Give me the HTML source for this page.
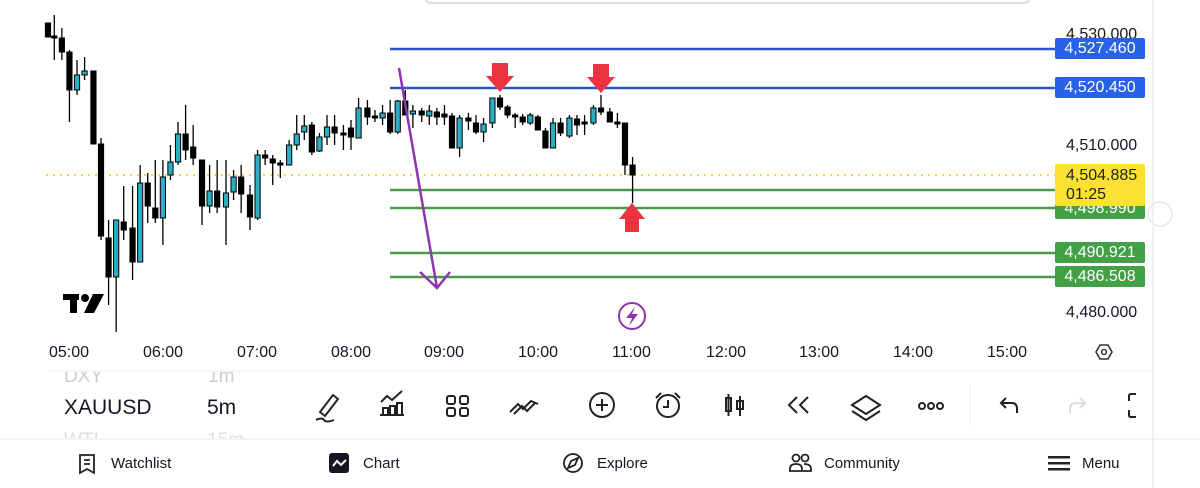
<!DOCTYPE html>
<html><head><meta charset="utf-8">
<style>
body{margin:0;width:1200px;height:488px;background:#fff;overflow:hidden;font-family:"Liberation Sans",sans-serif;position:relative}
.t{position:absolute;font-size:16px;color:#131722;white-space:nowrap}
.lbl{position:absolute;left:1055px;width:90px;height:21px;border-radius:2px;color:#fff;font-size:16px;text-align:center;line-height:21px}
</style></head><body>
<svg id="s" width="1200" height="488" style="position:absolute;left:0;top:0">
<rect x="425" y="-10" width="605" height="13" rx="6" fill="#fff" stroke="#ddd" stroke-width="2"/>
<line x1="1153" y1="0" x2="1153" y2="488" stroke="#eee" stroke-width="1.5"/>
<line x1="46" y1="175" x2="1055" y2="175" stroke="#e8d84a" stroke-width="2" stroke-dasharray="2,5"/>
<line x1="390" y1="49" x2="1055" y2="49" stroke="#2a55c9" stroke-width="2.5"/>
<line x1="390" y1="88" x2="1055" y2="88" stroke="#2a55c9" stroke-width="2.5"/>
<line x1="390" y1="190" x2="1055" y2="190" stroke="#4a9a4a" stroke-width="2.5"/>
<line x1="390" y1="208" x2="1055" y2="208" stroke="#4a9a4a" stroke-width="2.5"/>
<line x1="390" y1="253" x2="1055" y2="253" stroke="#4a9a4a" stroke-width="2.5"/>
<line x1="390" y1="277" x2="1055" y2="277" stroke="#4a9a4a" stroke-width="2.5"/>
<g id="c"></g>
<polyline points="399,68 437,288" stroke="#8e35b0" stroke-width="2.5" fill="none"/>
<polyline points="420,272 437,288 450,272" stroke="#8e35b0" stroke-width="2.5" fill="none"/>
<polygon points="492,63 508,63 508,76 514,76 500,92 486,76 492,76" fill="#ec3340"/>
<polygon points="593,64 609,64 609,77 615,77 601,93 587,77 593,77" fill="#ec3340"/>
<polygon points="625,232 639,232 639,219 645,219 632,203 619,219 625,219" fill="#ec3340"/>
<circle cx="632" cy="316" r="13" fill="none" stroke="#8e35b0" stroke-width="2"/>
<polygon points="635,307 626,318 632,318 629,326 638,314 632,314" fill="#8e35b0"/>
<g fill="#000"><rect x="63" y="294" width="16" height="6"/><rect x="70" y="294" width="7" height="19"/><circle cx="85" cy="298" r="4"/><polygon points="93,294 104,294 94,313 84,313"/></g>
<polygon points="1096,352 1100,345 1108,345 1112,352 1108,359 1100,359" fill="none" stroke="#333" stroke-width="1.6"/>
<circle cx="1104" cy="352" r="2.5" fill="none" stroke="#333" stroke-width="1.5"/>
<line x1="48" y1="371" x2="1150" y2="371" stroke="#eee"/>
<line x1="0" y1="439" x2="1200" y2="439" stroke="#e8e8e8"/>
<line x1="970" y1="385" x2="970" y2="425" stroke="#eee"/>
<circle cx="1160" cy="214" r="12" fill="none" stroke="#e6e6e6" stroke-width="1.5"/>
<g stroke="#222" stroke-width="2" fill="none">
<path d="M320,412 L333,395 L338,399 L325,416 Z M316,420 q6,-3 8,0 t10,0"/>
<path d="M380,415 h24 M383,414 v-6 h5 v6 M390,414 v-8 h5 v8 M397,414 v-11 h5 v11 M381,402 l6,-6 5,4 10,-9"/>
<rect x="447" y="396" width="8" height="8" rx="2"/><rect x="460" y="396" width="8" height="8" rx="2"/><rect x="447" y="408" width="8" height="8" rx="2"/><rect x="460" y="408" width="8" height="8" rx="2"/>
<path d="M510,412 l8,-8 5,5 8,-8 7,3 M514,414 l8,-8 5,5 8,-8"/>
<circle cx="602" cy="405" r="12"/><path d="M596,405 h12 M602,399 v12"/>
<circle cx="668" cy="406" r="11"/><path d="M668,400 v7 h-5 M656,398 l5,-5 M680,398 l-5,-5"/>
<rect x="726" y="398" width="5" height="13"/><path d="M728.5,394 v22 M740,396 v20"/><rect x="737" y="401" width="6" height="8"/>
<path d="M797,397 l-8,8 8,8 M808,397 l-8,8 8,8"/>
<path d="M852,405 l14,-9 14,9 -14,9 z M852,411 l14,9 14,-9"/>
<circle cx="922" cy="406" r="3"/><circle cx="931" cy="406" r="3"/><circle cx="940" cy="406" r="3"/>
<path d="M1002,403 h10 q5,0 5,6 v4 M1006,398 l-5,5 5,5"/>
<path d="M1136,394 h-5 q-2,0 -2,2 v5 M1129,410 v5 q0,2 2,2 h5"/>
</g>
<path d="M1070,413 v-4 q0,-6 6,-6 h9 M1080,398 l5,5 -5,5" stroke="#ddd" stroke-width="2" fill="none"/>
<g stroke="#222" stroke-width="1.8" fill="none">
<path d="M80,455 h14 v18 l-7,-4 -7,4 z M84,460 h6 M84,464 h6"/>
<circle cx="573" cy="463" r="9"/><path d="M578,458 l-3,7 -7,3 3,-7 z"/>
<circle cx="796" cy="458" r="3.5"/><circle cx="805" cy="458" r="3.5"/><path d="M790,471 v-2 q0,-5 6,-5 q6,0 6,5 v2 z M804,464 q7,0 7,5 v2 h-8"/>
</g>
<rect x="329" y="453" width="20" height="20" rx="3" fill="#131722"/>
<path d="M333,466 l4,-5 4,4 5,-5" stroke="#fff" stroke-width="2" fill="none"/>
<g fill="#222"><rect x="1048" y="456" width="22" height="2.5"/><rect x="1048" y="462" width="22" height="2.5"/><rect x="1048" y="468" width="22" height="2.5"/></g>
</svg>
<div class="t" style="left:1066px;top:26px">4,530.000</div>
<div class="t" style="left:1066px;top:137px">4,510.000</div>
<div class="t" style="left:1066px;top:304px">4,480.000</div>
<div class="lbl" style="top:38px;background:#2962e8">4,527.460</div>
<div class="lbl" style="top:77px;background:#2962e8">4,520.450</div>
<div class="lbl" style="top:198px;background:#43a047">4,498.990</div>
<div class="lbl" style="top:242px;background:#43a047">4,490.921</div>
<div class="lbl" style="top:266px;background:#43a047">4,486.508</div>
<div style="position:absolute;left:1055px;top:164px;width:90px;height:42px;background:#fbe232;border-radius:2px;font-size:16px;line-height:19px;color:#222;padding:2px 0 0 11px;box-sizing:border-box">4,504.885<br>01:25</div>
<div class="t" style="left:49px;top:344px">05:00</div>
<div class="t" style="left:143px;top:344px">06:00</div>
<div class="t" style="left:237px;top:344px">07:00</div>
<div class="t" style="left:331px;top:344px">08:00</div>
<div class="t" style="left:424px;top:344px">09:00</div>
<div class="t" style="left:518px;top:344px">10:00</div>
<div class="t" style="left:612px;top:344px">11:00</div>
<div class="t" style="left:706px;top:344px">12:00</div>
<div class="t" style="left:799px;top:344px">13:00</div>
<div class="t" style="left:893px;top:344px">14:00</div>
<div class="t" style="left:987px;top:344px">15:00</div>
<div style="position:absolute;left:0;top:372px;width:300px;height:14px;overflow:hidden"><div class="t" style="left:64px;top:-6px;color:#ccc;font-size:19px">DXY</div><div class="t" style="left:208px;top:-6px;color:#ccc;font-size:19px">1m</div></div>
<div class="t" style="left:64px;top:396px;font-size:21px">XAUUSD</div>
<div class="t" style="left:207px;top:396px;font-size:21px">5m</div>
<div style="position:absolute;left:0;top:430px;width:300px;height:8px;overflow:hidden"><div class="t" style="left:64px;top:0;color:#ddd;font-size:19px">WTI</div><div class="t" style="left:207px;top:0;color:#ddd;font-size:19px">15m</div></div>
<div class="t" style="left:111px;top:455px;font-size:15px">Watchlist</div>
<div class="t" style="left:363px;top:455px;font-size:15px">Chart</div>
<div class="t" style="left:597px;top:455px;font-size:15px">Explore</div>
<div class="t" style="left:824px;top:455px;font-size:15px">Community</div>
<div class="t" style="left:1082px;top:455px;font-size:15px">Menu</div>
<script>
var d=[[38,23,37,23,37,0],[43,36,37,15,60,0],[49,38,52,28,60,0],[55,52,90,50,122,0],[61,75,90,60,95,1],[67,71,75,57,80,1],[74,71,144,71,144,0],[80,144,236,138,240,0],[86,238,277,220,305,0],[92,220,277,220,332,1],[98,222,230,186,240,0],[105,228,262,186,280,0],[111,183,262,165,262,1],[117,183,206,173,223,0],[123,208,218,160,223,0],[129,177,218,160,245,1],[135,162,175,145,180,1],[141,134,162,122,165,1],[147,134,150,105,160,0],[153,147,158,125,165,0],[160,160,206,160,225,0],[166,191,206,165,213,1],[172,191,207,160,213,0],[179,193,207,160,245,1],[185,177,192,170,200,1],[191,177,194,165,213,0],[198,195,217,185,230,0],[204,155,218,150,220,1],[210,155,158,150,165,0],[216,159,163,155,185,0],[222,163,165,160,178,0],[229,145,165,140,165,1],[235,134,145,115,150,1],[241,126,132,115,140,1],[247,125,152,122,155,0],[253,137,151,133,152,1],[259,127,137,115,145,1],[265,127,133,115,145,0],[272,133,135,125,150,0],[278,128,137,120,150,0],[284,108,138,98,138,1],[291,108,117,100,125,0],[297,116,118,110,122,0],[303,113,118,105,125,1],[309,113,132,100,134,0],[315,101,132,100,134,1],[321,101,115,90,115,0],[327,111,114,105,128,1],[334,111,115,108,122,0],[340,111,116,105,125,1],[346,112,117,108,125,0],[352,114,117,105,125,0],[358,116,148,113,148,0],[364,118,148,115,157,1],[371,118,121,113,130,0],[377,123,132,115,134,0],[383,124,132,118,142,1],[390,98,123,98,128,1],[396,98,107,95,110,0],[402,107,115,105,118,0],[408,115,117,113,128,0],[414,117,122,114,125,0],[420,115,123,113,125,1],[426,117,130,115,130,0],[432,131,148,128,148,0],[438,123,148,118,148,1],[444,123,133,118,136,0],[451,118,136,115,138,1],[457,119,125,115,135,0],[463,122,124,115,135,0],[470,108,123,105,125,1],[476,108,112,95,115,0],[483,112,122,108,122,0],[489,122,124,113,128,0],[495,123,165,123,175,0],[501,165,175,157,203,0]];
var g=document.getElementById('c'),h='';
d.forEach(function(a){var x=a[0]*1.2626;h+='<line x1="'+x+'" y1="'+a[3]+'" x2="'+x+'" y2="'+a[4]+'" stroke="#000" stroke-width="1.3"/>';
var ht=Math.max(a[2]-a[1],2);h+='<rect x="'+(x-2.6)+'" y="'+a[1]+'" width="5.2" height="'+ht+'" fill="'+(a[5]?'#2aaec2':'#000')+'" stroke="#000" stroke-width="1"/>';});
g.innerHTML=h;
</script>
</body></html>
